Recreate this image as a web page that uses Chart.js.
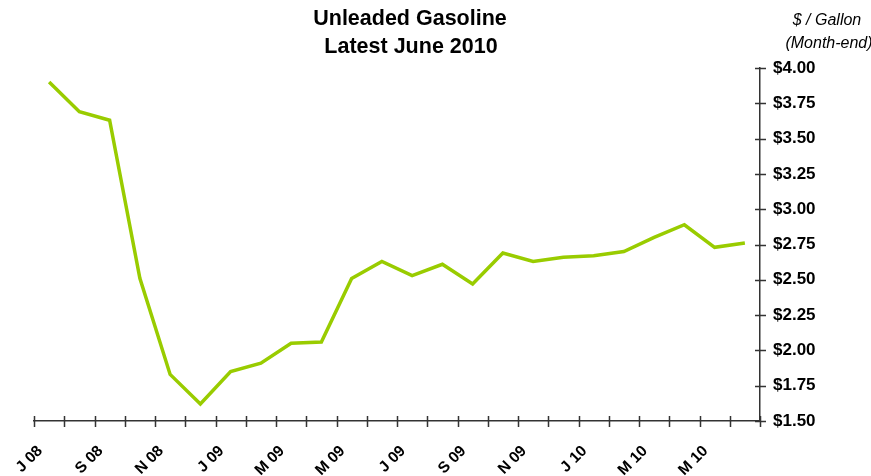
<!DOCTYPE html>
<html>
<head>
<meta charset="utf-8">
<title>Unleaded Gasoline</title>
<script src="https://cdn.jsdelivr.net/npm/chart.js@4"></script>
<style>
  html, body { margin:0; padding:0; background:#fff; }
  #wrap { width:871px; height:476px; position:relative; }
</style>
</head>
<body>
<div id="wrap"><canvas id="chart"></canvas></div>
<script>
// Month-end prices, Jul 2008 - Jun 2010
const months = ['J 08','A 08','S 08','O 08','N 08','D 08','J 09','F 09','M 09','A 09','M 09','J 09',
                'J 09','A 09','S 09','O 09','N 09','D 09','J 10','F 10','M 10','A 10','M 10','J 10'];
const prices = [3.90, 3.69, 3.63, 2.51, 1.83, 1.62, 1.85, 1.91, 2.05, 2.06, 2.51, 2.63,
                2.53, 2.61, 2.47, 2.69, 2.63, 2.66, 2.67, 2.70, 2.80, 2.89, 2.73, 2.76];
const yTicks = [1.50, 1.75, 2.00, 2.25, 2.50, 2.75, 3.00, 3.25, 3.50, 3.75, 4.00];

const FONT = "'Liberation Sans', Arial, sans-serif";
const AXIS = '#333';

// titles + small crossing tick marks on both axes
const decor = {
  id: 'decor',
  afterDraw(chart){
    const ctx = chart.ctx, x = chart.scales.x, y = chart.scales.y;
    ctx.save();
    ctx.fillStyle = '#000';
    ctx.textAlign = 'center';
    ctx.textBaseline = 'alphabetic';
    ctx.font = `bold 21.5px ${FONT}`;
    ctx.fillText('Unleaded Gasoline', 410, 25);
    ctx.fillText('Latest June 2010', 411, 53);
    ctx.font = `italic 16px ${FONT}`;
    ctx.fillText('$ / Gallon', 827, 25);
    ctx.fillText('(Month-end)', 829, 48);

    ctx.strokeStyle = AXIS;
    ctx.lineWidth = 1.5;
    ctx.beginPath();
    const yb = y.bottom;
    for (let i = 0; i <= months.length; i++){
      const px = Math.round(x.getPixelForValue(i - 0.5)) + 0.5;
      ctx.moveTo(px, yb - 5); ctx.lineTo(px, yb + 6);
    }
    const xr = x.right;
    yTicks.forEach(v=>{
      const py = Math.round(y.getPixelForValue(v)) + 0.5;
      ctx.moveTo(xr - 5, py); ctx.lineTo(xr + 6, py);
    });
    ctx.stroke();
    ctx.restore();
  }
};

new Chart(document.getElementById('chart'), {
  type: 'line',
  data: {
    labels: months,
    datasets: [{
      data: prices,
      borderColor: '#99cc00',
      borderWidth: 3.5,
      pointRadius: 0,
      tension: 0,
      fill: false
    }]
  },
  options: {
    responsive: true,
    maintainAspectRatio: false,
    animation: false,
    layout: { padding: { top: 68, left: 34, right: 0, bottom: 0 } },
    plugins: { legend: { display: false }, tooltip: { enabled: false } },
    scales: {
      x: {
        offset: true,
        grid: { display: false },
        border: { display: true, color: AXIS, width: 1.5 },
        ticks: {
          autoSkip: false,
          minRotation: 45, maxRotation: 45,
          padding: 13,
          labelOffset: -9,
          color: '#000',
          font: { family: FONT, size: 15.5, weight: 'bold' },
          callback: (v, i) => i % 2 === 0 ? months[i] : ''
        },
        afterFit: s => { s.height = 55; }
      },
      y: {
        position: 'right',
        min: 1.5, max: 4,
        grid: { display: false },
        border: { display: true, color: AXIS, width: 1.5 },
        afterBuildTicks: s => { s.ticks = yTicks.map(v => ({ value: v })); },
        ticks: {
          padding: 5,
          color: '#000',
          font: { family: FONT, size: 17, weight: 'bold' },
          callback: v => '$' + Number(v).toFixed(2)
        },
        afterFit: s => { s.width = 111; }
      }
    }
  },
  plugins: [decor]
});
</script>
</body>
</html>
